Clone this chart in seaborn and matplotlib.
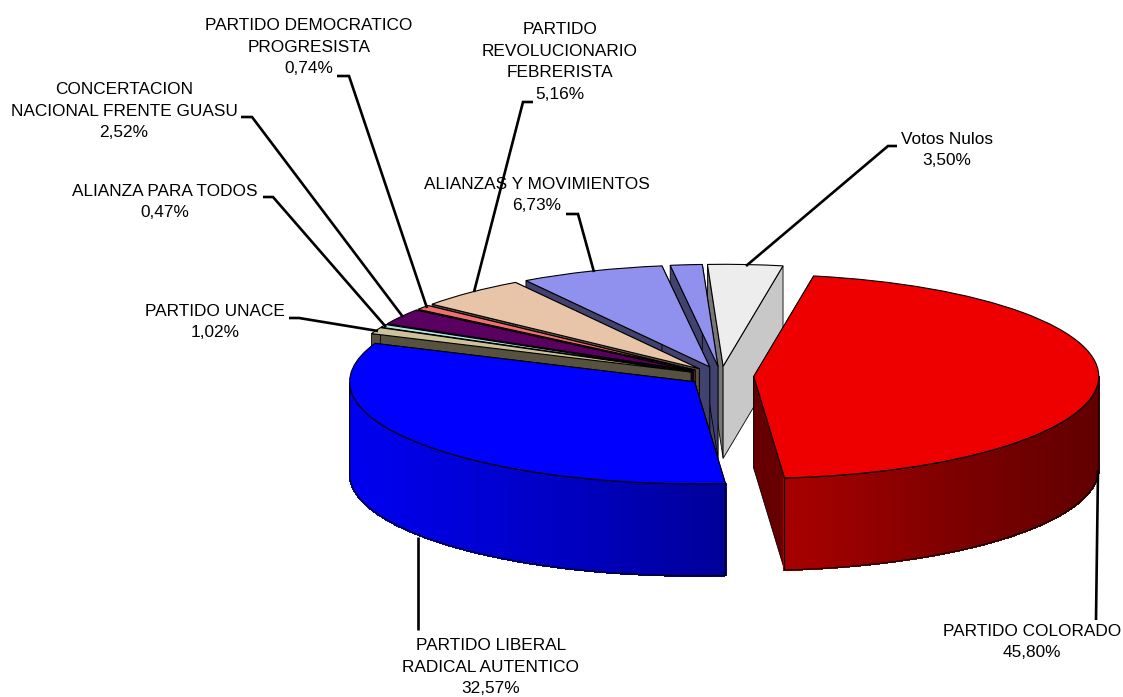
import numpy as np
import matplotlib
matplotlib.use("Agg")
import matplotlib.pyplot as plt
from matplotlib.patches import Polygon
import seaborn as sns

# ---- data -------------------------------------------------------------
parties = ["PARTIDO COLORADO", "PARTIDO LIBERAL\nRADICAL AUTENTICO", "PARTIDO UNACE",
           "ALIANZA PARA TODOS", "CONCERTACION\nNACIONAL FRENTE GUASU",
           "PARTIDO DEMOCRATICO\nPROGRESISTA", "PARTIDO\nREVOLUCIONARIO\nFEBRERISTA",
           "ALIANZAS Y MOVIMIENTOS", "", "Votos Nulos"]
shares = [45.80, 32.57, 1.02, 0.47, 2.52, 0.74, 5.16, 6.73, 1.49, 3.50]
top_colors = ["#EE0000", "#0000FF", "#CCC29C", "#B4E6E6", "#5A0060", "#F07070",
              "#E8C5A8", "#9090EE", "#9090EE", "#EDEDED"]
left_faces = ["#660000", "#000099", "#575140", "#506868", "#2A0030", "#6E3434",
              "#5C5040", "#42426E", "#42426E", "#777777"]
right_faces = ["#660000", "#000099", "#575140", "#506868", "#2A0030", "#6E3434",
               "#5C5040", "#42426E", "#42426E", "#C8C8C8"]
wall_ramps = {0: ["#A80000", "#800000", "#600000"], 1: ["#0000F0", "#0000C8", "#000098"]}

label_x = [1032, 491, 215, 165, 124, 309, 560, 537, None, 947]
label_y = [642, 667, 322, 202, 111, 47, 62, 195, None, 150]
leaders = [[(1098, 470), (1096, 620)],
           [(418, 537), (418, 630)],
           [(378, 331), (299, 318), (289, 318)],
           [(386, 327), (273, 197), (263, 197)],
           [(403, 317), (252, 117), (241, 117)],
           [(427, 308), (349, 76), (337, 76)],
           [(474, 292), (523, 102), (533, 102)],
           [(594, 272), (578, 214), (566, 214)],
           None,
           [(746, 266), (888, 146), (897, 146)]]

# ---- projection settings -----------------------------------------------
W, H = 1123, 697
CX, CY = 721.0, 376.0      # pie centre in pixels
RX, RY = 345.0, 102.0      # pixels per unit of radius
DEPTH = 92.0 / RY          # extrusion height, in radius units
EXPLODE = 0.095
START = 80.0
n = len(shares)

sns.set_theme(style="white")
plt.rcParams["font.family"] = ["Liberation Sans", "DejaVu Sans"]

fig = plt.figure(figsize=(W / 100, H / 100), dpi=100, facecolor="white")
ax = fig.add_axes([0, 0, 1, 1])

wedges, _ = ax.pie(shares, colors=top_colors, explode=[EXPLODE] * n, startangle=START,
                   counterclock=False, radius=1, center=(0, 0), frame=True,
                   wedgeprops=dict(edgecolor="black", linewidth=0.8))
ax.set_aspect("auto")
ax.set_xlim(-CX / RX, (W - CX) / RX)
ax.set_ylim((CY - H) / RY, CY / RY)
ax.axis("off")

# paint from the back of the pie to the front
order = [9, 8, 7, 6, 5, 4, 3, 2, 1, 0]
edges = START - np.cumsum([0] + shares) * 3.6
for z, i in enumerate(order):
    base = 2 + z
    t1, t0 = edges[i], edges[i + 1]      # t1 > t0, degrees
    mid = np.radians((t0 + t1) / 2)
    ox, oy = EXPLODE * np.cos(mid), EXPLODE * np.sin(mid)
    for t, col in ((t1, left_faces[i]), (t0, right_faces[i])):
        a = np.radians(t)
        rim = (ox + np.cos(a), oy + np.sin(a))
        ax.add_patch(Polygon([(ox, oy), rim, (rim[0], rim[1] - DEPTH), (ox, oy - DEPTH)],
                             closed=True, facecolor=col, edgecolor="black",
                             linewidth=0.6, zorder=base))
    # outer wall on the front half of the ellipse
    ts = np.linspace(t0, t1, int((t1 - t0) * 3) + 2)
    ts = ts[np.sin(np.radians(ts)) <= 0.001]
    if len(ts) > 1:
        xs = ox + np.cos(np.radians(ts))
        ys = oy + np.sin(np.radians(ts))
        ramp = sns.blend_palette(wall_ramps.get(i, [top_colors[i]] * 2), 64)
        lo, hi = xs.min(), xs.max()
        for k in range(len(ts) - 1):
            c = ramp[int((xs[k] - lo) / (hi - lo) * 63)]
            ax.add_patch(Polygon([(xs[k], ys[k]), (xs[k + 1], ys[k + 1]),
                                  (xs[k + 1], ys[k + 1] - DEPTH), (xs[k], ys[k] - DEPTH)],
                                 closed=True, facecolor=c, edgecolor=c, linewidth=0.9,
                                 antialiased=False, zorder=base + 0.1))
        outline = np.r_[np.c_[xs, ys], np.c_[xs, ys - DEPTH][::-1]]
        ax.add_patch(Polygon(outline, closed=True, fill=False, edgecolor="black",
                             linewidth=0.8, zorder=base + 0.2))
    wedges[i].set_zorder(base + 0.3)

# ---- labels and leader lines in a pixel-scaled overlay ------------------
lab = fig.add_axes([0, 0, 1, 1], facecolor="none")
lab.set_xlim(0, W)
lab.set_ylim(H, 0)
lab.axis("off")
for name, share, x, y, lead in zip(parties, shares, label_x, label_y, leaders):
    if not name:
        continue
    text = f"{name}\n{share:.2f}".replace(".", ",") + "%"
    lab.text(x, y, text, ha="center", va="center", fontsize=12.4, color="black",
             linespacing=1.53, clip_on=False)
    lab.plot(*zip(*lead), color="black", lw=1.9, solid_joinstyle="miter",
             solid_capstyle="butt")

fig.savefig("out.png", dpi=100, facecolor="white")
